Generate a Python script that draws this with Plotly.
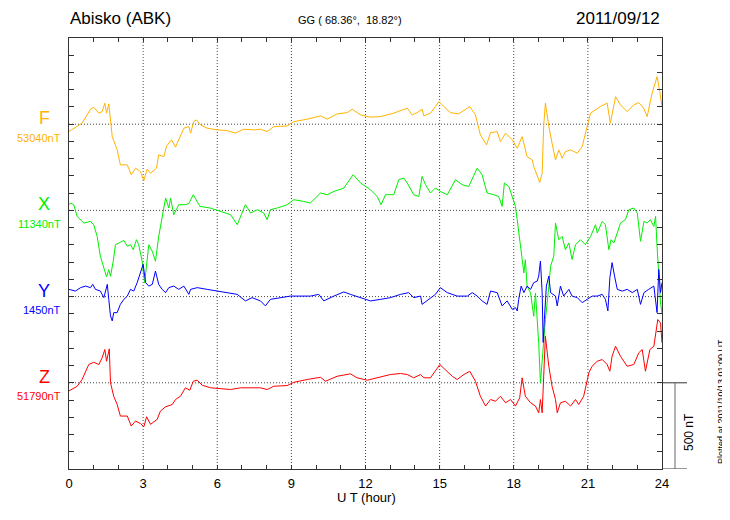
import plotly.graph_objects as go

# ---------------- data (hours UT, deviation from baseline in nT) ----------------
hours_F = [0, 0.53, 0.87, 1.00, 1.21, 1.34, 1.45, 1.52, 1.61, 1.68, 1.75, 1.95, 2.08, 2.36, 2.52, 2.69,
           2.89, 3.03, 3.16, 3.30, 3.54, 3.63, 3.84, 3.95, 4.15, 4.31, 4.44, 4.65, 4.85, 4.92, 5.05, 5.16,
           5.32, 5.59, 6.00, 6.40, 6.74, 7.07, 7.48, 7.75, 8.02, 8.29, 8.83, 9.10, 9.64, 10.18, 10.45,
           10.85, 11.26, 11.46, 11.80, 12.20, 12.61, 13.14, 13.69, 13.89, 14.09, 14.29, 14.36, 14.63,
           14.83, 14.97, 15.17, 15.44, 15.77, 15.98, 16.22, 16.45, 16.65, 16.90, 17.06, 17.33, 17.46,
           17.67, 17.94, 18.14, 18.34, 18.54, 18.75, 18.81, 18.95, 19.05, 19.15, 19.21, 19.28, 19.42,
           19.55, 19.69, 19.82, 19.96, 20.09, 20.30, 20.57, 20.77, 20.97, 21.11, 21.51, 21.78, 21.91,
           22.12, 22.32, 22.59, 22.86, 23.06, 23.26, 23.40, 23.60, 23.80, 23.91, 24.00]
dev_F = [-42, 6, 87, 98, 64, 73, 122, 64, 118, 6, -72, -149, -236, -236, -294, -255,
         -274, -327, -261, -284, -255, -178, -188, -126, -91, -133, -91, -23, -14, -52, 15, 25,
         -4, -23, -33, -37, -52, -29, -33, -29, -43, -14, -10, 15, 29, 48, 29,
         60, 67, 87, 54, 41, 44, 64, 93, 54, 67, 87, 48, 64,
         102, 131, 102, 67, 60, 79, 102, 54, -62, -120, -49, -43, -101,
         -52, -91, -139, -72, -188, -207, -245, -294, -338, -284, -14, 122, -14,
         -110, -207, -149, -197, -159, -149, -168, -130, -14, 64, 103, 122, 6,
         160, 112, 73, 112, 125, 93, 44, 180, 276, 189, 102]

hours_X = [0, 0.06, 0.19, 0.33, 0.60, 0.87, 1.00, 1.14, 1.27, 1.41, 1.52, 1.61, 1.68, 1.79, 1.88, 2.08,
           2.22, 2.36, 2.49, 2.60, 2.73, 2.82, 2.96, 3.06, 3.14, 3.23, 3.37, 3.50, 3.63, 3.77, 3.91,
           4.04, 4.11, 4.24, 4.44, 4.71, 4.85, 5.03, 5.30, 5.71, 6.00, 6.27, 6.54, 6.81, 7.01, 7.14,
           7.35, 7.62, 7.88, 8.02, 8.15, 8.43, 8.83, 9.10, 9.50, 9.77, 10.18, 10.45, 10.72, 11.12,
           11.50, 11.80, 12.20, 12.47, 12.63, 12.81, 13.14, 13.35, 13.55, 13.69, 13.95, 14.16, 14.29,
           14.43, 14.63, 14.83, 15.03, 15.31, 15.64, 15.91, 16.18, 16.52, 16.72, 16.92, 17.19, 17.39,
           17.53, 17.62, 17.80, 17.94, 18.07, 18.14, 18.27, 18.34, 18.41, 18.47, 18.54, 18.68, 18.81,
           18.88, 19.01, 19.08, 19.19, 19.28, 19.42, 19.49, 19.62, 19.69, 19.82, 19.96, 20.09, 20.23,
           20.36, 20.50, 20.70, 20.90, 21.11, 21.31, 21.38, 21.58, 21.71, 21.85, 21.94, 22.05, 22.19,
           22.32, 22.52, 22.66, 22.86, 23.00, 23.13, 23.27, 23.40, 23.53, 23.67, 23.74, 23.80, 23.87,
           23.94, 24.00]
dev_X = [33, 43, 33, -35, -73, -64, -83, -151, -266, -334, -386, -343, -382, -295, -199, -185,
         -174, -208, -199, -228, -170, -199, -295, -421, -324, -199, -237, -295, -151, -35, 72,
         14, 72, -25, 33, 33, 40, 91, 23, 14, 0, -15, -25, -83, -6, 33,
         -15, 4, -15, -54, 4, 14, 33, 62, 52, 43, 101, 91, 110, 129,
         207, 159, 120, 81, 33, 91, 91, 178, 188, 159, 91, 81, 197,
         149, 101, 130, 110, 91, 178, 149, 139, 245, 207, 101, 91, 81,
         23, 159, 139, 81, 23, -54, -208, -305, -363, -286, -440, -479, -614,
         -479, -770, -1001, -770, -635, -440, -324, -266, -73, -170, -151, -228, -189,
         -285, -199, -170, -199, -151, -83, -131, -64, -83, -228, -170, -189, -131,
         -73, -54, 4, 14, -15, -179, -64, -73, -54, -93, -35, -208, -363,
         -537, -596]

hours_Y = [0, 0.26, 0.47, 0.67, 0.87, 0.96, 1.07, 1.27, 1.41, 1.48, 1.55, 1.61, 1.68, 1.75, 1.81, 1.95,
           2.08, 2.22, 2.36, 2.49, 2.62, 2.76, 2.89, 3.00, 3.10, 3.23, 3.37, 3.50, 3.63, 3.77, 3.91,
           4.04, 4.24, 4.44, 4.65, 4.85, 4.92, 5.19, 5.59, 6.00, 6.40, 6.81, 7.14, 7.41, 7.75, 7.95,
           8.15, 8.56, 8.96, 9.37, 9.77, 10.11, 10.31, 10.72, 11.12, 11.39, 11.80, 12.20, 12.61, 13.01,
           13.42, 13.75, 13.95, 14.23, 14.29, 14.63, 14.83, 15.03, 15.31, 15.71, 16.12, 16.32, 16.52,
           16.72, 16.92, 17.06, 17.33, 17.53, 17.73, 17.94, 18.07, 18.14, 18.20, 18.30, 18.41, 18.54,
           18.68, 18.81, 18.95, 19.01, 19.08, 19.15, 19.19, 19.24, 19.32, 19.42, 19.49, 19.69, 19.76,
           19.89, 20.02, 20.23, 20.36, 20.57, 20.77, 20.97, 21.17, 21.38, 21.58, 21.71, 21.81, 21.89,
           21.98, 22.08, 22.19, 22.39, 22.59, 22.80, 23.00, 23.13, 23.27, 23.46, 23.67, 23.80, 23.87,
           23.94, 24.00]
dev_Y = [42, 32, 52, 61, 52, 71, 42, 32, -6, 32, 71, -16, -112, -141, -93, -93,
         -45, -16, 3, 42, 32, 81, 139, 187, 81, 61, 71, 148, 71, 42, 23,
         52, 61, 42, 61, 13, 42, 52, 42, 32, 23, 13, -25, -6, -25, -54,
         -16, -6, 3, 3, 3, 13, -25, 3, 27, 13, -6, -25, -16, -6,
         13, 23, -6, 3, -45, -6, 13, 52, 23, 3, 3, 23, 3,
         -25, -45, 32, 23, -54, -25, -74, -64, -83, -16, 61, 23, 61,
         42, 81, 90, 119, 206, 23, -266, -131, 61, 119, 23, 3, -54,
         61, 3, 42, 3, -6, -35, -16, 3, 3, 13, -16, -83, 110,
         197, 119, 42, 32, 42, 23, 42, -45, 23, 42, 61, -93, 158,
         23, 81]

hours_Z = [0, 0.33, 0.53, 0.80, 1.00, 1.21, 1.34, 1.45, 1.52, 1.63, 1.68, 1.81, 1.95, 2.08, 2.36, 2.52,
           2.69, 2.89, 3.03, 3.14, 3.30, 3.57, 3.70, 3.91, 4.18, 4.31, 4.51, 4.71, 4.89, 5.03, 5.19,
           5.39, 5.73, 6.13, 6.54, 6.94, 7.35, 7.75, 8.02, 8.29, 8.83, 9.10, 9.64, 10.18, 10.38, 10.85,
           11.39, 11.66, 12.07, 12.61, 13.01, 13.42, 13.69, 13.95, 14.23, 14.36, 14.63, 15.01, 15.24,
           15.51, 15.71, 15.98, 16.22, 16.45, 16.65, 16.86, 17.06, 17.26, 17.46, 17.67, 17.87, 18.07,
           18.24, 18.34, 18.47, 18.68, 18.88, 19.01, 19.08, 19.15, 19.28, 19.42, 19.55, 19.69, 19.76,
           19.89, 20.09, 20.30, 20.50, 20.63, 20.83, 21.04, 21.17, 21.38, 21.58, 21.78, 21.89, 21.98,
           22.12, 22.32, 22.59, 22.86, 23.06, 23.20, 23.33, 23.51, 23.67, 23.83, 23.94, 24.00]
dev_Z = [-47, -20, 19, 106, 119, 106, 145, 193, 125, 197, 0, -78, -126, -193, -193, -251,
         -222, -236, -255, -197, -241, -212, -164, -139, -126, -97, -78, -29, -43, 9, 15,
         -14, -29, -35, -39, -29, -29, -29, -39, -20, -16, 3, 19, 32, 9, 38,
         52, 29, 15, 34, 48, 54, 48, 29, 48, 29, 29, 106, 77,
         38, 19, 48, 67, 9, -78, -135, -97, -107, -78, -116, -97, -135,
         -87, 29, -78, -116, -135, -174, -97, -174, 270, 96, -20, -97, -174,
         -116, -107, -135, -97, -126, -78, 58, 96, 125, 135, 106, 67, 154,
         212, 154, 96, 106, 174, 193, 67, 193, 212, 367, 347, 232]

components = ["F", "X", "Y", "Z"]
baseline_labels = ["53040nT", "11340nT", "1450nT", "51790nT"]
series_hours = [hours_F, hours_X, hours_Y, hours_Z]
series_dev = [dev_F, dev_X, dev_Y, dev_Z]

station = "Abisko (ABK)"
coords = "GG ( 68.36°,  18.82°)"
date_text = "2011/09/12"
plotted_text = "Plotted at 2011/10/13 01:00 UT"
scale_text = "500 nT"
x_title = "U T (hour)"
x_tick_hours = list(range(0, 25))
x_label_hours = list(range(0, 25, 3))
grid_hours = list(range(3, 24, 3))

# ---------------- styling / layout ----------------
colors = ["#FFB300", "#00EE00", "#0000FF", "#FF0000"]
STEP = 500           # nT between stacked baselines
YMAX = 2500
PAGE_OFF = 8         # default page margin of the html body
W, H = 730 - PAGE_OFF, 520 - PAGE_OFF
# target positions in window pixels
L, R, T, B = 69, 662, 38, 469
FONT = "Liberation Sans, Arial, Helvetica, sans-serif"
DOT = "1px,2px"


def px(x):
    return (x - L) / (R - L)


def py(y):
    return (B - y) / (B - T)


fig = go.Figure()
n = len(components)
for i in range(n):
    off = (n - i) * STEP
    fig.add_trace(go.Scatter(
        x=series_hours[i], y=[v + off for v in series_dev[i]],
        mode="lines", line=dict(color=colors[i], width=1), showlegend=False,
        hoverinfo="skip"))

shapes = []
for h in grid_hours:
    shapes.append(dict(type="line", xref="x", yref="y", x0=h, x1=h, y0=0, y1=YMAX,
                       line=dict(color="#444", width=1, dash=DOT), layer="below"))
for i in range(n):
    off = (n - i) * STEP
    shapes.append(dict(type="line", xref="x", yref="y", x0=0, x1=24, y0=off, y1=off,
                       line=dict(color="#444", width=1, dash=DOT), layer="below"))
# scale bar
shapes.append(dict(type="line", xref="paper", yref="y", x0=1, x1=px(687), y0=STEP, y1=STEP,
                   line=dict(color="#333", width=1)))
shapes.append(dict(type="line", xref="paper", yref="y", x0=1, x1=px(687), y0=0, y1=0,
                   line=dict(color="#333", width=1)))
shapes.append(dict(type="line", xref="paper", yref="y", x0=px(675), x1=px(675), y0=0, y1=STEP,
                   line=dict(color="#666", width=1)))

ann = []
ann.append(dict(text=station, x=px(68), y=py(19), xref="paper", yref="paper", xanchor="left",
                yanchor="middle", showarrow=False, font=dict(size=17, color="black", family=FONT)))
ann.append(dict(text=coords, x=px(350), y=py(20), xref="paper", yref="paper", xanchor="center",
                yanchor="middle", showarrow=False, font=dict(size=11, color="black", family=FONT)))
ann.append(dict(text=date_text, x=px(662), y=py(19), xref="paper", yref="paper", xanchor="right",
                yanchor="middle", showarrow=False, font=dict(size=17, color="black", family=FONT)))
for i in range(n):
    dy = 86.3 * i
    ann.append(dict(text=components[i], x=px(44), y=py(118 + dy), xref="paper", yref="paper",
                    xanchor="center", yanchor="middle", showarrow=False,
                    font=dict(size=18, color=colors[i], family=FONT)))
    ann.append(dict(text=baseline_labels[i], x=px(63), y=py(137.5 + dy), xref="paper", yref="paper",
                    xanchor="right", yanchor="middle", showarrow=False,
                    font=dict(size=11, color=colors[i], family=FONT)))
ann.append(dict(text=scale_text, x=px(689), y=py(432), xref="paper", yref="paper", textangle=-90,
                xanchor="center", yanchor="middle", showarrow=False,
                font=dict(size=12, color="black", family=FONT)))
ann.append(dict(text=plotted_text, x=px(721), y=py(402), xref="paper", yref="paper", textangle=-90,
                xanchor="center", yanchor="middle", showarrow=False,
                font=dict(size=9, color="black", family=FONT)))
ann.append(dict(text=x_title, x=px(366), y=py(497), xref="paper", yref="paper",
                xanchor="center", yanchor="middle", showarrow=False,
                font=dict(size=13, color="black", family=FONT)))

fig.update_layout(
    width=W, height=H,
    margin=dict(l=L - PAGE_OFF, r=730 - R, t=T - PAGE_OFF, b=520 - B, pad=0),
    paper_bgcolor="white", plot_bgcolor="white",
    shapes=shapes, annotations=ann,
    font=dict(family=FONT, size=13, color="black"),
    xaxis=dict(range=[0, 24], tickmode="array", tickvals=x_tick_hours,
               ticktext=[str(h) if h in x_label_hours else "" for h in x_tick_hours],
               ticks="inside", ticklen=4, tickcolor="#333", showgrid=False, zeroline=False,
               showline=True, linecolor="#333", linewidth=1, mirror="ticks",
               tickfont=dict(size=13, family=FONT, color="black"), ticklabelstandoff=2),
    yaxis=dict(range=[0, YMAX], tickmode="linear", tick0=0, dtick=100, showticklabels=False,
               ticks="inside", ticklen=5, tickcolor="#333", showgrid=False, zeroline=False,
               showline=True, linecolor="#333", linewidth=1, mirror="ticks"),
)

fig.write_html("out.html")
